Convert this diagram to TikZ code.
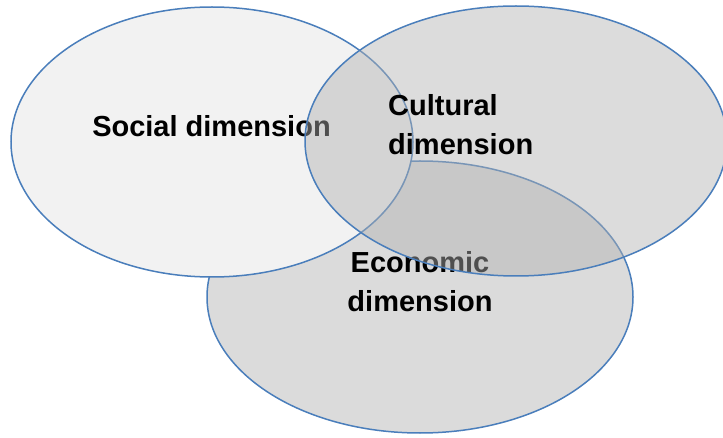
\documentclass[tikz,border=0pt]{standalone}
\usepackage{fontspec}
\setmainfont{Liberation Sans}
\usetikzlibrary{shapes.geometric}
\definecolor{edgeblue}{HTML}{4A7EBB}
\definecolor{socialfill}{HTML}{F2F2F2}
\definecolor{econfill}{HTML}{DBDBDB}
\definecolor{cultfill}{HTML}{B1B1B1}
\tikzset{
  blob/.style={ellipse, draw=edgeblue, line width=1.5pt, inner sep=0pt},
  lbl/.style={font=\bfseries\fontsize{29}{39}\selectfont, text=black, inner sep=0pt},
}
\begin{document}
\begin{tikzpicture}[x=1pt,y=-1pt]
\useasboundingbox (0,0) rectangle (723,438);
% economic (bottom layer)
\node[blob, fill=econfill, minimum width=426pt, minimum height=272pt] (econ) at (420,297) {};
\node[lbl, align=center, anchor=base] (econtxt) at (420,312) {Economic\\dimension};
% social
\node[blob, fill=socialfill, minimum width=402pt, minimum height=270pt] (social) at (212,142) {};
\node[lbl, anchor=base] (socialtxt) at (211.5,137) {Social dimension};
% cultural (semi-transparent top layer)
\node[blob, fill=cultfill, fill opacity=0.45, minimum width=422pt, minimum height=270pt] (cult) at (516,141) {};
\node[lbl, align=left, anchor=base west] (culttxt) at (388,155) {Cultural\\dimension};
\end{tikzpicture}
\end{document}
